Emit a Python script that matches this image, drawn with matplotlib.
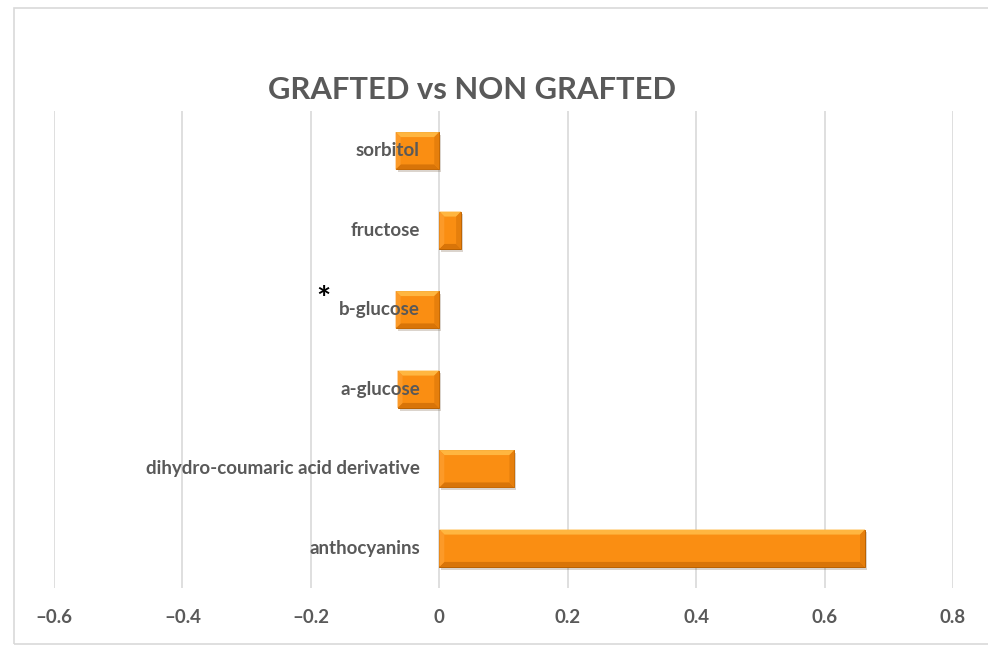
import matplotlib.pyplot as plt
import numpy as np
from matplotlib.patches import Polygon, Rectangle
from matplotlib import patheffects as pe

plt.rcParams['font.family'] = ['Lato', 'DejaVu Sans']

compounds = ['anthocyanins', 'dihydro-coumaric acid derivative', 'a-glucose',
             'b-glucose', 'fructose', 'sorbitol']
values = [0.663, 0.117, -0.065, -0.068, 0.034, -0.068]
xticks = [-0.6, -0.4, -0.2, 0, 0.2, 0.4, 0.6, 0.8]
starred = 'b-glucose'

gray = '#595959'
orange = '#FA8E12'

fig = plt.figure(figsize=(9.88, 6.46), dpi=100)
ax = fig.add_axes([54 / 988, 1 - 588 / 646, 899 / 988, 477 / 646])

# light frame around the chart area
fig.patches.append(Rectangle((14 / 988, 2 / 646), 1.0, 636 / 646, transform=fig.transFigure,
                             fill=False, edgecolor='#D9D9D9', linewidth=1.2))

ypos = np.arange(len(compounds))
height = 0.47
bars = ax.barh(ypos, values, height=height, color=orange, edgecolor='#B86000',
               linewidth=0.7, zorder=2)
for b in bars:
    b.set_path_effects([pe.SimplePatchShadow(offset=(1.5, -2), alpha=0.2), pe.Normal()])

ax.set_xlim(xticks[0], xticks[-1])
ax.set_ylim(-0.5, len(compounds) - 0.5)

# bevel: lighter top edge, darker bottom/right edge
bx = 5 / 641.7
by = 5 / 79.4
for y, v in zip(ypos, values):
    x0, x1 = min(0, v), max(0, v)
    y0, y1 = y - height / 2, y + height / 2
    w = min(bx, (x1 - x0) / 2)
    faces = [
        ([(x0, y1), (x1, y1), (x1 - w, y1 - by), (x0 + w, y1 - by)], '#FFB640'),
        ([(x0, y0), (x1, y0), (x1 - w, y0 + by), (x0 + w, y0 + by)], '#D87408'),
        ([(x1, y0), (x1, y1), (x1 - w, y1 - by), (x1 - w, y0 + by)], '#E67F0C'),
        ([(x0, y0), (x0, y1), (x0 + w, y1 - by), (x0 + w, y0 + by)], '#FC9A28'),
    ]
    for pts, c in faces:
        ax.add_patch(Polygon(pts, closed=True, facecolor=c, edgecolor='none', zorder=2.1))

# category labels sit beside the zero line, drawn over the bars
for y, name in zip(ypos, compounds):
    ax.annotate(name, xy=(0, y), xytext=(-14, 0), textcoords='offset points',
                ha='right', va='center', fontsize=13.5, fontweight='bold',
                color=gray, zorder=5)

for s in ['left', 'right', 'top', 'bottom']:
    ax.spines[s].set_visible(False)
ax.set_yticks([])

ax.set_xticks(xticks)
ax.set_xticklabels([('\u2013' if t < 0 else '') + f'{abs(t):g}' for t in xticks],
                   fontsize=13.5, fontweight='bold', color=gray)
ax.tick_params(axis='x', length=0, pad=15)
ax.grid(axis='x', color='#D9D9D9', linewidth=1.2, zorder=0)
ax.set_axisbelow(True)

i = compounds.index(starred)
ax.annotate('*', xy=(-0.181, ypos[i]), xytext=(0, 7), textcoords='offset points',
            ha='center', va='center', fontsize=24, fontweight='bold', color='black')

fig.text(472 / 988, 1 - 90 / 646, 'GRAFTED vs NON GRAFTED', ha='center', va='center',
         fontsize=22.3, fontweight='bold', color=gray)

fig.savefig('out.png', dpi=100)
